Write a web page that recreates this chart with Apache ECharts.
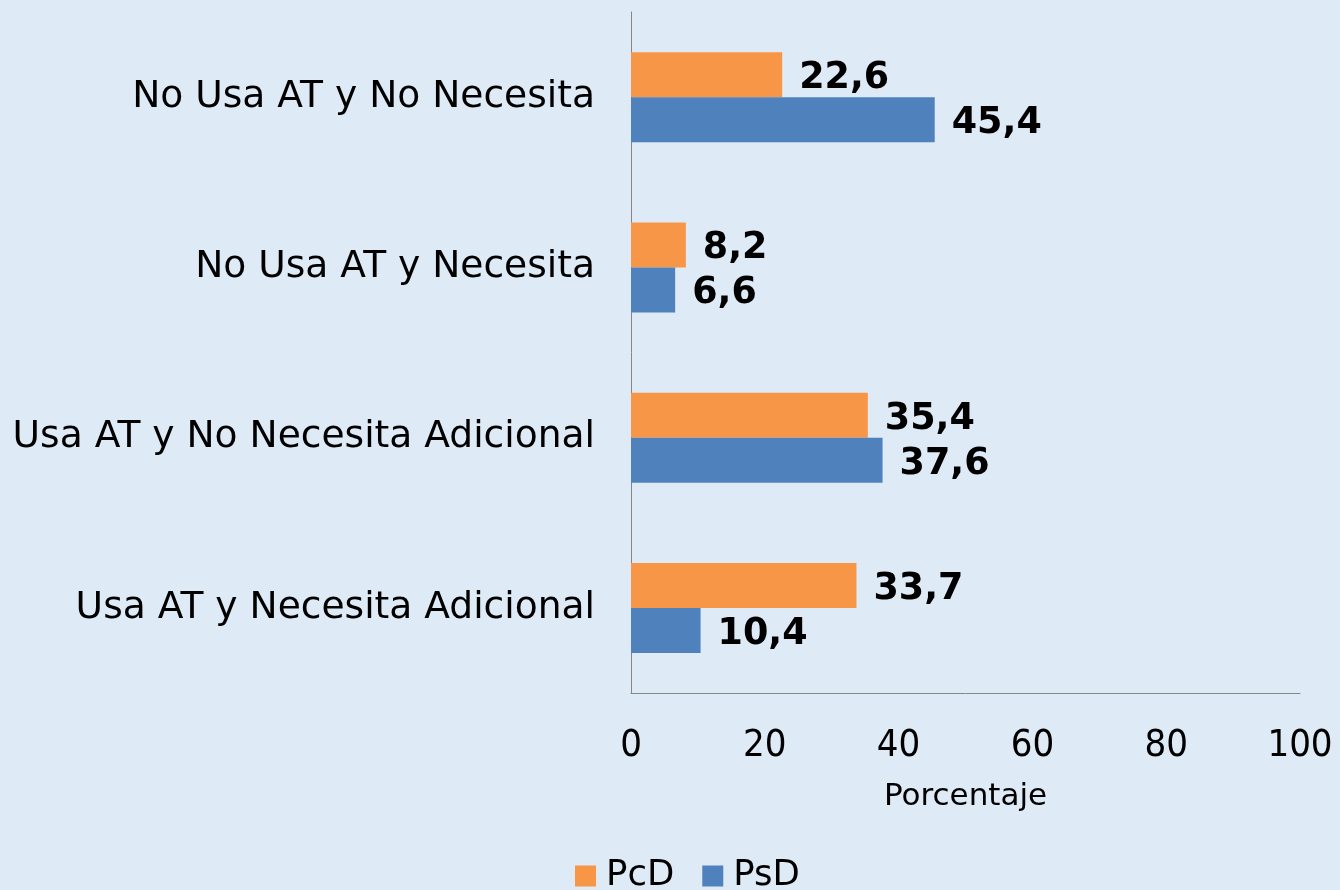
<!DOCTYPE html>
<html><head><meta charset="utf-8">
<script src="https://cdn.jsdelivr.net/npm/echarts@6/dist/echarts.min.js"></script>
<style>html,body{margin:0;padding:0;background:#DEEAF6}#c{width:1340px;height:890px}</style>
</head><body><div id="c"></div>
<script>
const categories = ["No Usa AT y No Necesita","No Usa AT y Necesita","Usa AT y No Necesita Adicional","Usa AT y Necesita Adicional"];
const seriesNames = ["PcD","PsD"];
const pcdValues = [22.6, 8.2, 35.4, 33.7];
const psdValues = [45.4, 6.6, 37.6, 10.4];
const xTicks = [0,20,40,60,80,100];

const chart = echarts.init(document.getElementById('c'));
const lbl = {show:true, position:'right', distance:17, color:'#000', fontFamily:'DejaVu Sans', fontWeight:'bold', fontSize:36.5,
  offset:[0,4],
  formatter: p => String(p.value).replace('.', ',')};
chart.setOption({
  backgroundColor:'#DEEAF6',
  animation:false,
  grid:{left:631, right:40, top:12, bottom:197, containLabel:false},
  legend:{data:seriesNames, left:570, top:853, itemWidth:21, itemHeight:21, itemGap:28,
    textStyle:{fontFamily:'DejaVu Sans', fontSize:35.5, color:'#000', padding:[0,0,0,5]}, icon:'rect'},
  xAxis:{type:'value', min:0, max:100, interval:20,
    axisLine:{show:true, lineStyle:{color:'#868686', width:1}}, axisTick:{show:false}, splitLine:{show:false},
    axisLabel:{fontFamily:'DejaVu Sans Condensed', fontSize:38, color:'#000', margin:34,
      formatter: v => xTicks.includes(v) ? String(v) : ''},
    name:'Porcentaje', nameLocation:'middle', nameGap:88,
    nameTextStyle:{fontFamily:'DejaVu Sans', fontSize:31, color:'#000'}},
  yAxis:{type:'category', data:categories, inverse:true,
    axisLine:{show:true, lineStyle:{color:'#868686', width:1}}, axisTick:{show:false},
    axisLabel:{fontFamily:'DejaVu Sans', fontSize:37.6, color:'#000', margin:36, padding:[7,0,0,0]}},
  series:[
    {name:seriesNames[0], type:'bar', data:pcdValues, barWidth:45, barGap:'0%', itemStyle:{color:'#F79646'}, label:lbl},
    {name:seriesNames[1], type:'bar', data:psdValues, barWidth:45, barGap:'0%', itemStyle:{color:'#4F81BD'}, label:lbl}
  ]
});
</script></body></html>
